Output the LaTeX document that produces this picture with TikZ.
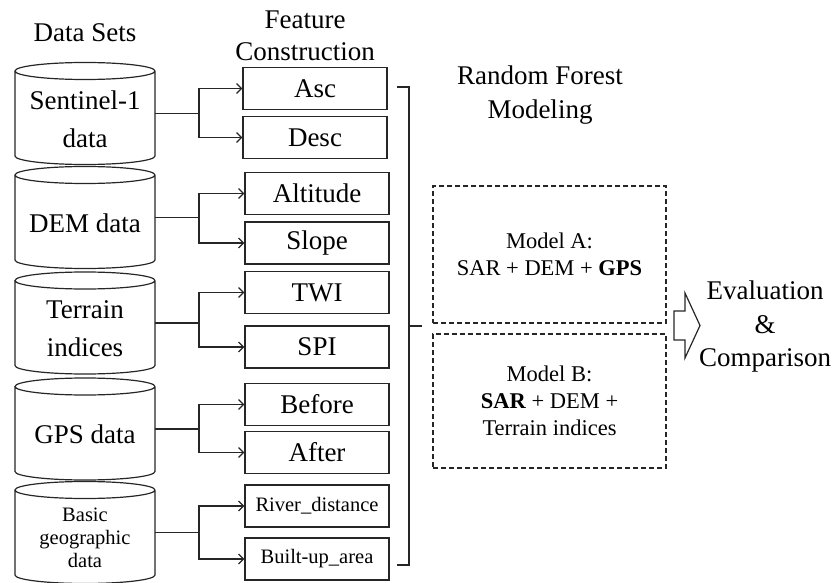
\documentclass[tikz,border=0pt]{standalone}
\usepackage{fontspec}
\setmainfont{Liberation Serif}
\usetikzlibrary{arrows.meta}

\tikzset{
  dataset/.style={minimum width=140pt, minimum height=90pt, inner sep=0pt, outer sep=0pt, align=center,
    font=\fontsize{27}{38}\selectfont},
  drum/.style={draw=black!85, line width=1.2pt},
  feature/.style={draw=black!85, line width=1.2pt, minimum width=144pt, minimum height=42pt,
    inner sep=0pt, font=\fontsize{27}{32}\selectfont},
  model/.style={draw=black!85, dash pattern=on 5pt off 3pt, line width=1.2pt, minimum width=233pt,
    align=center, font=\fontsize{22.5}{27}\selectfont},
  title/.style={align=center, font=\fontsize{27}{33}\selectfont},
  link/.style={draw=black!85, line width=1.2pt, -{Straight Barb[length=5pt,width=10pt]}},
}

% drum outline round a data set node (text sits a little below the drum middle)
\newcommand{\datadrum}[1]{%
  \draw[drum] ([shift={(70pt,48pt)}]#1.center) arc[start angle=0, end angle=360, x radius=70pt, y radius=8.5pt]
    ([shift={(-70pt,48pt)}]#1.center) -- ([shift={(-70pt,-37pt)}]#1.center)
    arc[start angle=180, end angle=360, x radius=70pt, y radius=8.5pt] -- ([shift={(70pt,48pt)}]#1.center);}

\begin{document}
\begin{tikzpicture}[x=1pt, y=-1pt]
      \useasboundingbox (0,0) rectangle (836,583);
      % Titles:
      \node[title] (dsTitle) at (85,33) {Data Sets};
      \node[title, font=\fontsize{27}{32}\selectfont] (fcTitle) at (305,36) {Feature\\Construction};
      \node[title, font=\fontsize{27}{34}\selectfont] (rfTitle) at (540,95) {Random Forest\\Modeling};
      % Data sets:
      \node[dataset] (sen) at (85,119) {Sentinel-1\\data};
      \node[dataset] (dem) at (85,223) {DEM data};
      \node[dataset] (ter) at (85,328.5) {Terrain\\indices};
      \node[dataset] (gps) at (85,434.5) {GPS data};
      \node[dataset, font=\fontsize{20.5}{23}\selectfont] (geo) at (85,538) {Basic\\geographic\\data};
      \datadrum{sen}
      \datadrum{dem}
      \datadrum{ter}
      \datadrum{gps}
      \datadrum{geo}
      % Features:
      \node[feature] (asc) at (315,88.5) {Asc};
      \node[feature] (desc) at (315,137.5) {Desc};
      \node[feature] (alt) at (317,193.5) {Altitude};
      \node[feature] (slope) at (317,243) {Slope};
      \node[feature] (twi) at (317,292.5) {TWI};
      \node[feature] (spi) at (317,347) {SPI};
      \node[feature] (before) at (317,404.5) {Before};
      \node[feature] (after) at (317,452.5) {After};
      \node[feature, font=\fontsize{20.5}{24}\selectfont] (river) at (317,506) {River\_distance};
      \node[feature, font=\fontsize{20.5}{24}\selectfont] (built) at (317,559) {Built-up\_area};
      % Wires:
      \draw[link] ([yshift=5.5pt]sen.east) -- ++(44,0) |- (asc.west);
      \draw[link] ([yshift=5.5pt]sen.east) -- ++(44,0) |- (desc.west);
      \draw[link] ([yshift=5.5pt]dem.east) -- ++(44,0) |- (alt.west);
      \draw[link] ([yshift=5.5pt]dem.east) -- ++(44,0) |- (slope.west);
      \draw[link] ([yshift=5.5pt]ter.east) -- ++(44,0) |- (twi.west);
      \draw[link] ([yshift=5.5pt]ter.east) -- ++(44,0) |- (spi.west);
      \draw[link] ([yshift=5.5pt]gps.east) -- ++(44,0) |- (before.west);
      \draw[link] ([yshift=5.5pt]gps.east) -- ++(44,0) |- (after.west);
      \draw[link] ([yshift=5.5pt]geo.east) -- ++(44,0) |- (river.west);
      \draw[link] ([yshift=5.5pt]geo.east) -- ++(44,0) |- (built.west);
      % Brace:
      \coordinate (braceTop) at (397,87);
      \coordinate (braceBot) at (397,565);
      \coordinate (braceTip) at (422,326);
      \draw[drum] (braceTop) -- ++(12,0) |- (braceBot);
      \draw[drum] (braceTip) -- ++(-13,0);
      % Models:
      \node[model, minimum height=137pt] (modA) at (549.5,254.5) {Model A:\\SAR + DEM + \textbf{GPS}};
      \node[model, minimum height=134pt] (modB) at (549.5,401) {Model B:\\\textbf{SAR} + DEM +\\Terrain indices};
      % Block arrow and result:
      \draw[drum] (674,311) -- (685,311) -- (685,293) -- (700,325.5) -- (685,358)
        -- (685,340) -- (674,340) -- cycle;
      \node[title, font=\fontsize{27}{33.5}\selectfont] (eval) at (765,327) {Evaluation\\\&\\Comparison};
    \end{tikzpicture}
\end{document}
